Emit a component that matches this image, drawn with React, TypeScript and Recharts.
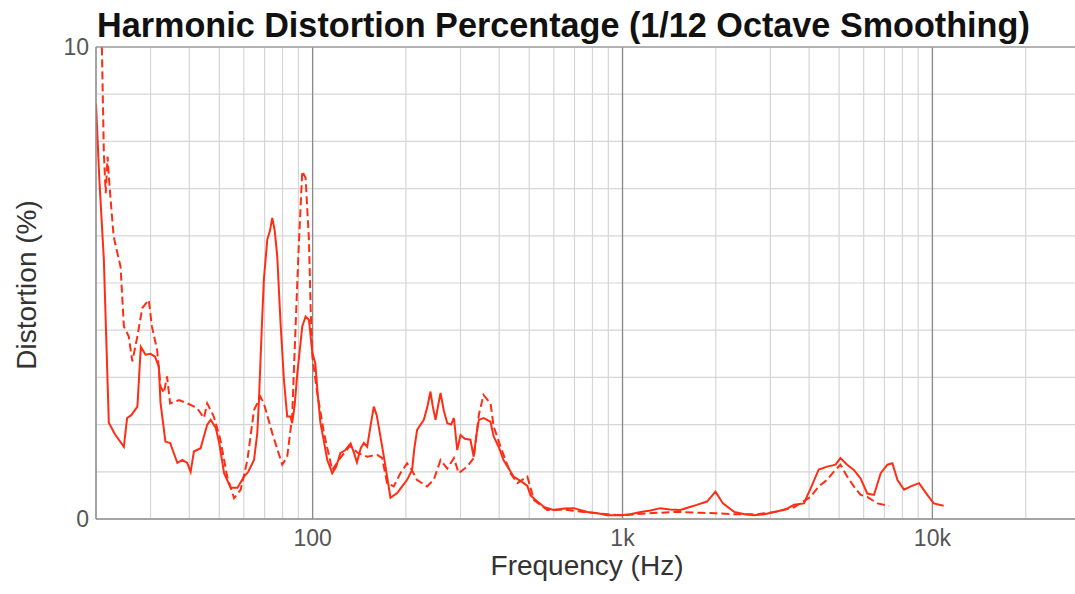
import { LineChart, Line, XAxis, YAxis, CartesianGrid, ReferenceLine } from "recharts";

// solid trace (frequency in Hz, distortion in %)
const solidFreq = [
  20, 20.5, 21.2, 22, 23, 24.6, 25.2, 26, 27.2, 27.9, 28.9, 30, 31, 31.9, 32.3, 33.5, 34.7, 36.6, 38, 39.4,
  40.4, 41.4, 43.5, 45.7, 46.9, 48.7, 50, 51.8, 54.4, 57.2, 60.1, 62, 64.7, 66.3, 67.1, 68.5, 69.6, 71.4, 72.8, 74.1,
  75.5, 76.9, 78.8, 80.8, 82.8, 84.9, 85.9, 87.5, 89.3, 92.6, 94.9, 97.3, 99.8, 102, 104, 106, 108, 111.5, 115.7, 119,
  123, 127, 132.6, 136, 139, 143, 146.3, 150, 154, 157.6, 161, 165.5, 170, 173.9, 178.3, 187.4, 195, 201.8, 209.4, 213,
  217.4, 228.5, 235, 240, 244, 249.3, 254, 258.7, 265, 272, 280, 285.7, 292.9, 300, 310, 323, 331, 338, 344, 356,
  375, 384, 400, 413, 445, 480, 493, 505, 531, 560, 599, 650, 697, 769, 830, 893, 987, 1060, 1144, 1230,
  1325, 1420, 1536, 1640, 1738, 1873, 1995, 2109, 2294, 2480, 2664, 2870, 3088, 3350, 3580, 3851, 3950, 4048, 4297, 4573,
  4867, 5049, 5307, 5578, 5863, 6163, 6478, 6809, 7157, 7428, 7708, 8101, 8515, 9054, 9628, 10100, 10870,
];
const solidPct = [
  8.8, 7.2, 5.5, 2.04, 1.8, 1.53, 2.14, 2.2, 2.38, 3.65, 3.48, 3.5, 3.44, 3.23, 2.46, 1.64, 1.61, 1.19, 1.25, 1.19,
  1.0, 1.43, 1.5, 2.0, 2.1, 1.93, 1.6, 0.97, 0.66, 0.66, 0.9, 1.0, 1.25, 1.82, 2.5, 4.0, 5.07, 5.92, 6.1, 6.38,
  6.1, 5.56, 4.15, 2.95, 2.17, 2.17, 2.03, 2.4, 3.1, 4.08, 4.29, 4.22, 3.52, 3.3, 2.6, 2.03, 1.75, 1.25, 0.97, 1.1,
  1.4, 1.45, 1.6, 1.4, 1.2, 1.5, 1.61, 1.53, 2.0, 2.38, 2.2, 1.75, 1.3, 0.9, 0.45, 0.55, 0.7, 0.83, 1.04, 1.5,
  1.89, 2.1, 2.4, 2.7, 2.4, 2.1, 2.4, 2.67, 2.3, 2.03, 2.0, 2.14, 1.46, 1.78, 1.7, 1.68, 1.32, 1.8, 2.1, 2.14,
  2.06, 1.75, 1.5, 1.25, 0.9, 0.76, 0.7, 0.5, 0.37, 0.25, 0.19, 0.22, 0.23, 0.15, 0.12, 0.08, 0.08, 0.1, 0.15, 0.18,
  0.23, 0.2, 0.19, 0.25, 0.3, 0.37, 0.58, 0.33, 0.15, 0.1, 0.08, 0.1, 0.15, 0.2, 0.3, 0.33, 0.5, 0.65, 1.05, 1.11,
  1.15, 1.29, 1.15, 1.04, 0.86, 0.54, 0.51, 0.97, 1.15, 1.18, 0.83, 0.62, 0.69, 0.76, 0.51, 0.33, 0.28,
];

// dashed trace
const dashFreq = [
  20, 20.6, 20.9, 21.2, 21.5, 21.8, 22, 22.4, 22.8, 23.7, 24, 24.6, 25.5, 26.2, 27.2, 28.2, 29.6, 30.3, 31.5, 32.3,
  33.1, 33.9, 34.7, 37.1, 39.4, 42.4, 44.6, 45.7, 48, 50.4, 53, 55.8, 58.6, 61.6, 64.7, 67.9, 69.6, 74.1, 79.8, 82.8,
  85.9, 88.2, 90.3, 92.6, 94.9, 97.3, 98.5, 99.8, 103.5, 108.8, 115.7, 123, 132, 140, 150, 161.6, 167.7, 173.9, 182.7, 192,
  201.8, 209, 217, 234, 246, 258.7, 272, 285.7, 296, 315, 331, 344, 356, 375, 384, 404, 435, 458, 493, 518,
  572, 650, 750, 900, 1000, 1200, 1500, 1800, 2000, 2300, 2700, 3100, 3580, 4048, 4297, 4573, 4800, 5049, 5307, 5578,
  5863, 6163, 6646, 7250,
];
const dashPct = [
  11, 10.5, 9.95, 7.76, 6.9, 7.68, 7.26, 6.6, 5.99, 5.5, 5.35, 4.08, 3.87, 3.34, 3.87, 4.47, 4.64, 4.08, 3.58, 2.81,
  2.67, 3.02, 2.45, 2.52, 2.45, 2.35, 2.14, 2.45, 2.17, 1.68, 0.9, 0.44, 0.62, 1.25, 2.31, 2.59, 2.45, 1.82, 1.15, 1.32,
  2.17, 4.15, 5.85, 7.37, 7.23, 5.92, 4.5, 3.44, 2.67, 1.82, 1.04, 1.3, 1.55, 1.4, 1.32, 1.36, 1.29, 0.76, 0.69, 0.97,
  1.18, 1.04, 0.83, 0.69, 0.83, 1.25, 1.07, 1.29, 0.97, 1.11, 1.29, 2.21, 2.63, 2.45, 1.96, 1.53, 0.97, 0.76, 0.9, 0.4,
  0.19, 0.2, 0.15, 0.1, 0.08, 0.12, 0.15, 0.13, 0.12, 0.1, 0.1, 0.15, 0.25, 0.47, 0.69, 0.83, 1.0, 1.15, 0.9, 0.69,
  0.51, 0.47, 0.33, 0.28,
];

const xGridTicks = [
  20, 30, 40, 50, 60, 70, 80, 90, 100, 200, 300, 400, 500, 600, 700, 800, 900,
  1000, 2000, 3000, 4000, 5000, 6000, 7000, 8000, 9000, 10000, 20000, 30000, 40000,
];
const xTickLabels: Record<number, string> = { 100: "100", 1000: "1k", 10000: "10k" };
const decadeLines = [100, 1000, 10000];
const yGridTicks = [0, 1, 2, 3, 4, 5, 6, 7, 8, 9, 10];
const yTickLabels: Record<number, string> = { 0: "0", 10: "10" };

const solidData = solidFreq.map((f, i) => ({ f, pct: solidPct[i] }));
const dashData = dashFreq.map((f, i) => ({ f, pct: dashPct[i] }));

const FONT = '"Liberation Sans", Arial, Helvetica, sans-serif';
const RED = "#ff2d14";
const tickStyle = { fontSize: 23, fill: "#555", fontFamily: FONT };

const App = () => {
  return (
    <div style={{ position: "absolute", left: 0, top: 0, width: 1075, height: 594, overflow: "hidden", background: "#fff" }}>
      <LineChart width={1125} height={594} margin={{ top: 47, right: 6, left: 1, bottom: 15 }}>
        <CartesianGrid stroke="#d6d6d6" strokeWidth={1.2} />
        <XAxis
          dataKey="f"
          type="number"
          scale="log"
          domain={[20, 40000]}
          ticks={xGridTicks}
          tickFormatter={(v: number) => xTickLabels[v] ?? ""}
          tick={tickStyle}
          tickLine={false}
          tickSize={0}
          tickMargin={11}
          height={60}
          stroke="#8c8c8c"
          strokeWidth={1.5}
          allowDataOverflow
          interval={0}
        />
        <YAxis
          type="number"
          domain={[0, 10]}
          ticks={yGridTicks}
          tickFormatter={(v: number) => yTickLabels[v] ?? ""}
          tick={tickStyle}
          tickLine={false}
          tickSize={0}
          tickMargin={7}
          width={95}
          stroke="#8c8c8c"
          strokeWidth={1.5}
          allowDataOverflow
          interval={0}
        />
        {decadeLines.map((d) => (
          <ReferenceLine key={d} x={d} stroke="#8c8c8c" strokeWidth={1.3} />
        ))}
        <ReferenceLine y={10} stroke="#a0a0a0" strokeWidth={1.5} />
        <Line
          data={solidData}
          dataKey="pct"
          type="linear"
          stroke={RED}
          strokeWidth={2}
          dot={false}
          isAnimationActive={false}
        />
        <Line
          data={dashData}
          dataKey="pct"
          type="linear"
          stroke={RED}
          strokeWidth={2}
          strokeDasharray="8 4"
          dot={false}
          isAnimationActive={false}
        />
      </LineChart>
      <svg width={1075} height={594} style={{ position: "absolute", left: 0, top: 0, pointerEvents: "none" }}>
        <text x={97} y={37} fontFamily={FONT} fontWeight="bold" fontSize={34.2} fill="#111">
          Harmonic Distortion Percentage (1/12 Octave Smoothing)
        </text>
        <text x={587} y={575} textAnchor="middle" fontFamily={FONT} fontSize={28} fill="#333">
          Frequency (Hz)
        </text>
        <text
          x={0}
          y={0}
          transform="translate(36,285) rotate(-90)"
          textAnchor="middle"
          fontFamily={FONT}
          fontSize={28}
          fill="#333"
        >
          Distortion (%)
        </text>
      </svg>
    </div>
  );
};

export default App;
